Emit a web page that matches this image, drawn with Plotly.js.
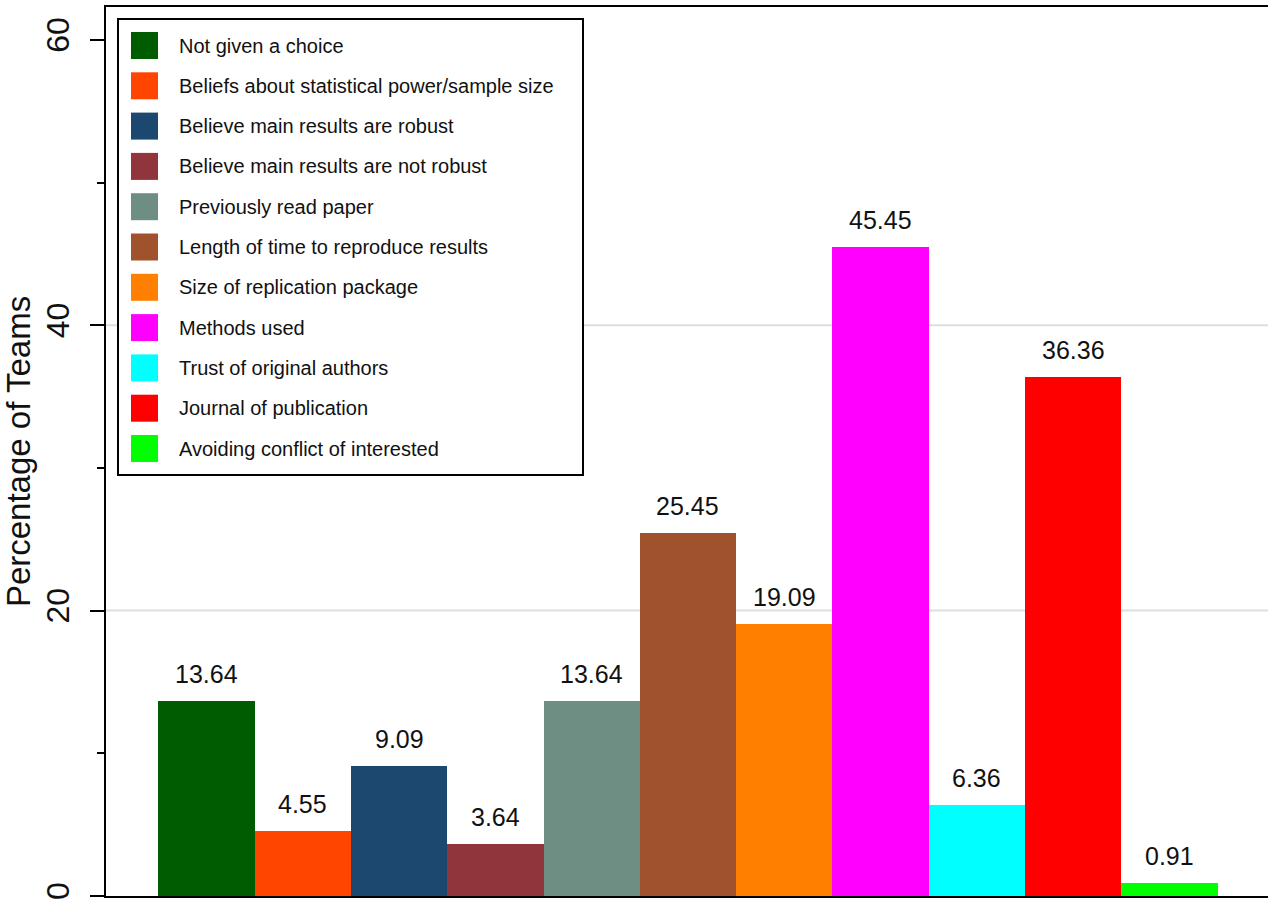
<!DOCTYPE html>
<html>
<head>
<meta charset="utf-8">
<script src="https://cdn.plot.ly/plotly-3.0.1.min.js"></script>
<style>html,body{margin:0;padding:0;background:#fff;}#chart{width:1268px;height:905px;}</style>
</head>
<body>
<div id="chart"></div>
<script>
// ---- data ----
var categories = [
  "Not given a choice",
  "Beliefs about statistical power/sample size",
  "Believe main results are robust",
  "Believe main results are not robust",
  "Previously read paper",
  "Length of time to reproduce results",
  "Size of replication package",
  "Methods used",
  "Trust of original authors",
  "Journal of publication",
  "Avoiding conflict of interested"
];
var percentages = [13.64, 4.55, 9.09, 3.64, 13.64, 25.45, 19.09, 45.45, 6.36, 36.36, 0.91];
var barColors = ["#005c00", "#ff4500", "#1c4870", "#90353b", "#6e8e84", "#a0522d",
                 "#ff7f00", "#ff00ff", "#00ffff", "#ff0000", "#00ff00"];
var yTickVals = [0, 20, 40, 60];
var yTickText = ["0", "20", "40", "60"];
var gridVals = [20, 40];
var yTitle = "Percentage of Teams";

// ---- geometry ----
var W = 1268, H = 905;
var mL = 106, mR = 0, mT = 7, mB = 9;
var plotW = W - mL - mR, plotH = H - mT - mB;
function px2paperX(px) { return (px - mL) / plotW; }
function px2paperY(py) { return (H - mB - py) / plotH; }

var FONT = "Liberation Sans, Arial, Helvetica, sans-serif";

var traces = categories.map(function (c, i) {
  return {
    type: "bar",
    name: c,
    x: [i],
    y: [percentages[i]],
    width: 1,
    marker: { color: barColors[i], line: { width: 0 } },
    showlegend: false,
    hoverinfo: "name+y"
  };
});

var annotations = [];
var shapes = [];

// grid lines
gridVals.forEach(function (g) {
  shapes.push({
    type: "line", layer: "below",
    xref: "paper", x0: 0, x1: 1,
    yref: "y", y0: g, y1: g,
    line: { color: "#dedede", width: 2 }
  });
});

// value labels
percentages.forEach(function (v, i) {
  annotations.push({
    x: i, y: v, xref: "x", yref: "y",
    text: v.toFixed(2),
    showarrow: false,
    xanchor: "center", yanchor: "bottom",
    yshift: 11,
    font: { family: FONT, size: 25, color: "#111" }
  });
});

// legend box
shapes.push({
  type: "rect", layer: "above",
  xref: "paper", yref: "paper",
  x0: px2paperX(118), x1: px2paperX(583),
  y0: px2paperY(475), y1: px2paperY(19),
  fillcolor: "#ffffff",
  line: { color: "#000", width: 2 }
});
var rowStep = 40.3;
categories.forEach(function (c, i) {
  var top = 32 + i * rowStep;
  shapes.push({
    type: "rect", layer: "above",
    xref: "paper", yref: "paper",
    x0: px2paperX(131), x1: px2paperX(158),
    y0: px2paperY(top + 27), y1: px2paperY(top),
    fillcolor: barColors[i],
    line: { width: 0 }
  });
  annotations.push({
    xref: "paper", yref: "paper",
    x: px2paperX(177), y: px2paperY(top + 13.5),
    xanchor: "left", yanchor: "middle",
    text: c, showarrow: false,
    font: { family: FONT, size: 20, color: "#111" }
  });
});

var layout = {
  width: W, height: H,
  margin: { l: mL, r: mR, t: mT, b: mB, pad: 0 },
  paper_bgcolor: "#fff", plot_bgcolor: "#fff",
  barmode: "overlay",
  bargap: 0,
  font: { family: FONT, color: "#000" },
  xaxis: {
    range: [-1.043, 11.023],
    showline: true, mirror: true, linecolor: "#000", linewidth: 2,
    showticklabels: false, ticks: "", showgrid: false, zeroline: false,
    fixedrange: true
  },
  yaxis: {
    range: [0, 62.3],
    tickmode: "array", tickvals: yTickVals, ticktext: yTickText,
    tickangle: -90,
    ticks: "outside", ticklen: 14, tickwidth: 2, tickcolor: "#000",
    ticklabelstandoff: 8,
    minor: { dtick: 10, ticks: "outside", ticklen: 7, tickwidth: 2, tickcolor: "#000", showgrid: false },
    tickfont: { family: FONT, size: 32, color: "#111" },
    showline: true, linecolor: "#000", linewidth: 2,
    showgrid: false, zeroline: false,
    automargin: true,
    title: { text: yTitle, font: { family: FONT, size: 33, color: "#111" }, standoff: 10 }
  },
  shapes: shapes,
  annotations: annotations
};

Plotly.newPlot("chart", traces, layout, { displayModeBar: false, staticPlot: true });
</script>
</body>
</html>
